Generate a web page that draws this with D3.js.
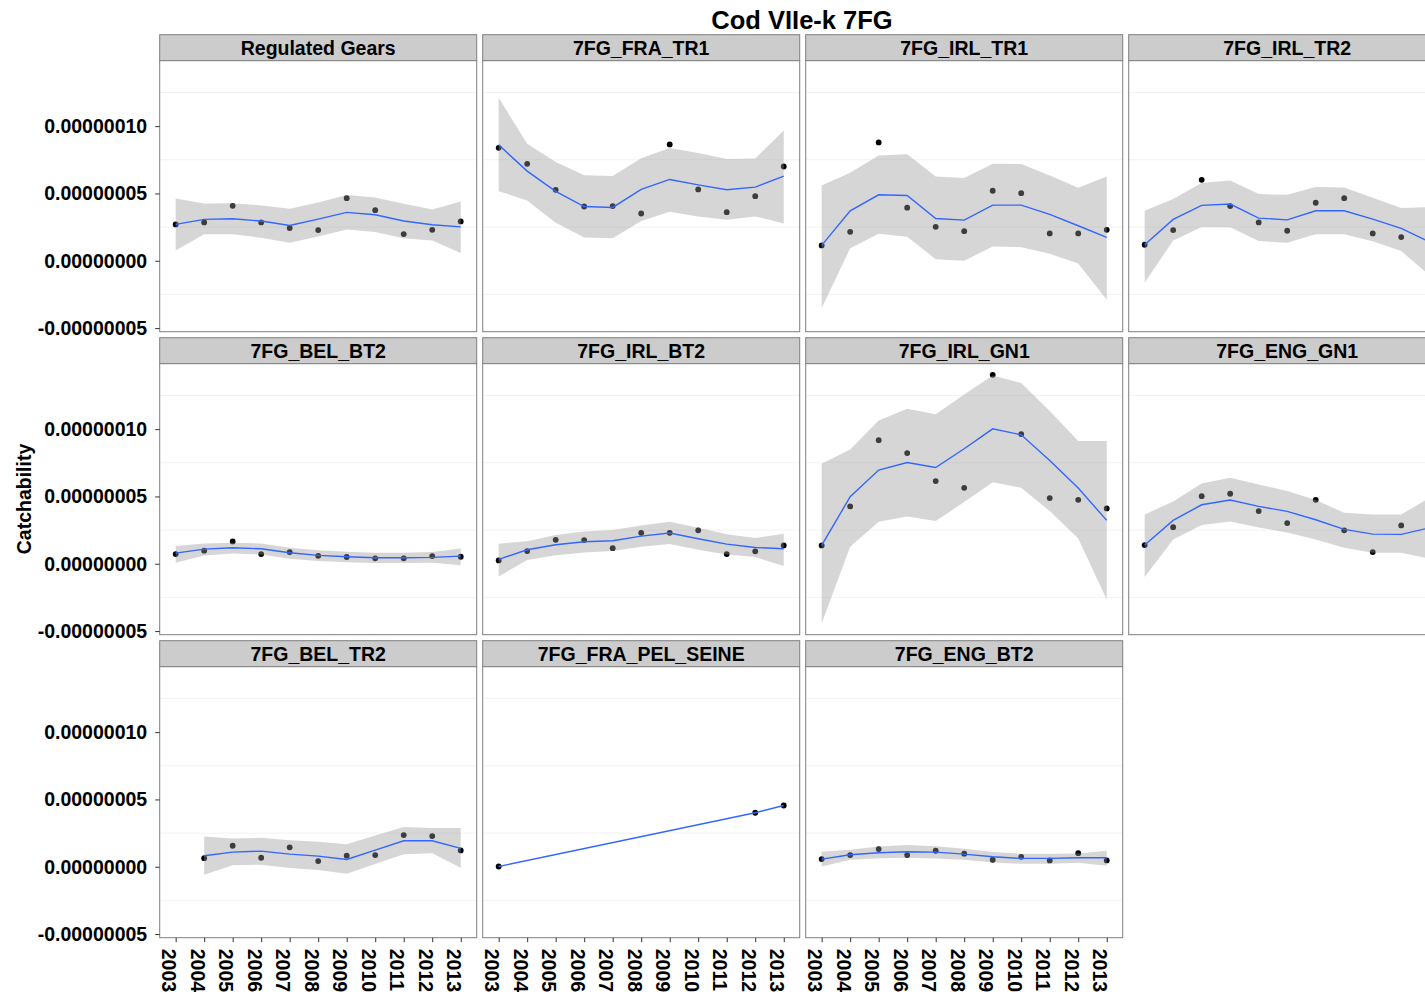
<!DOCTYPE html>
<html><head><meta charset="utf-8">
<script src="https://cdn.jsdelivr.net/npm/d3@7"></script>
<style>
body{margin:0;background:#fff;}
svg{display:block;font-family:"Liberation Sans",Arial,sans-serif;}
</style>
</head><body>
<svg id="chart" width="1425" height="999"></svg>
<script>
// ---- data (catchability values in units of 1e-8) ----
const UNIT = 1e-8;
const years = [2003,2004,2005,2006,2007,2008,2009,2010,2011,2012,2013];
const panelNames = ["Regulated Gears","7FG_FRA_TR1","7FG_IRL_TR1","7FG_IRL_TR2",
  "7FG_BEL_BT2","7FG_IRL_BT2","7FG_IRL_GN1","7FG_ENG_GN1",
  "7FG_BEL_TR2","7FG_FRA_PEL_SEINE","7FG_ENG_BT2"];
const yTickValues = [-5e-8, 0, 5e-8, 1e-7];
const yMinorValues = [-2.5e-8, 2.5e-8, 7.5e-8, 1.25e-7];

const regPts = [2.70,2.85,4.08,2.85,2.43,2.28,4.65,3.76,1.98,2.30,2.92];
const regFit = [2.70,3.07,3.12,2.95,2.62,3.09,3.59,3.42,2.95,2.67,2.52];
const regLo  = [0.77,1.96,1.96,1.71,1.34,1.81,2.33,2.13,1.68,1.51,0.57];
const regHi  = [4.63,4.26,4.28,4.11,3.86,4.33,4.88,4.70,4.23,3.81,4.41];

const fraTr1Pts = [8.39,7.20,5.27,4.03,4.06,3.51,8.64,5.30,3.61,4.80,7.00];
const fraTr1Fit = [8.61,6.66,5.15,4.03,3.96,5.30,6.04,5.64,5.27,5.47,6.29];
const fraTr1Lo  = [5.17,4.48,2.82,1.73,1.68,2.95,3.64,3.29,3.04,3.29,2.77];
const fraTr1Hi  = [12.10,8.69,7.33,6.36,6.29,7.62,8.37,8.00,7.55,7.60,9.68];

const irlTr1Pts = [1.14,2.15,8.79,3.94,2.52,2.20,5.20,5.02,2.03,2.03,2.30];
const irlTr1Fit = [1.14,3.71,4.90,4.85,3.14,3.02,4.13,4.13,3.44,2.60,1.73];
const irlTr1Lo  = [-3.51,0.92,2.00,1.78,0.12,0.00,1.06,1.01,0.52,-0.20,-2.90];
const irlTr1Hi  = [5.59,6.53,7.82,7.92,6.26,6.14,7.20,7.18,6.34,5.42,6.26];

const irlTr2Pts = [1.19,2.28,6.01,4.06,2.85,2.23,4.31,4.65,2.03,1.76,1.00];
const irlTr2Fit = [1.19,3.07,4.11,4.21,3.17,3.04,3.71,3.71,3.09,2.40,1.39];
const irlTr2Lo  = [-1.63,1.51,2.50,2.48,1.46,1.34,1.96,1.96,1.44,0.72,-1.09];
const irlTr2Hi  = [3.71,4.58,5.77,5.97,4.95,4.90,5.47,5.45,4.68,3.91,3.99];

const belBt2Pts = [0.72,0.97,1.66,0.72,0.87,0.59,0.50,0.40,0.40,0.57,0.52];
const belBt2Fit = [0.79,1.09,1.19,1.11,0.82,0.62,0.52,0.45,0.45,0.47,0.57];
const belBt2Lo  = [0.07,0.62,0.77,0.69,0.37,0.20,0.12,0.05,0.05,0.07,-0.12];
const belBt2Hi  = [1.31,1.51,1.56,1.51,1.19,1.01,0.89,0.82,0.82,0.87,1.14];

const irlBt2Pts = [0.25,0.94,1.78,1.76,1.16,2.30,2.30,2.48,0.72,0.92,1.36];
const irlBt2Fit = [0.32,1.04,1.41,1.63,1.71,2.05,2.28,1.86,1.46,1.21,1.11];
const irlBt2Lo  = [-0.94,0.27,0.64,0.84,0.94,1.26,1.46,1.04,0.69,0.50,-0.17];
const irlBt2Hi  = [1.49,1.68,2.13,2.40,2.50,2.85,3.12,2.67,2.20,1.91,2.23];

const irlGn1Pts = [1.36,4.26,9.18,8.22,6.14,5.64,14.03,9.63,4.88,4.75,4.11];
const irlGn1Fit = [1.36,4.98,6.96,7.52,7.15,8.54,10.02,9.58,7.67,5.62,3.22];
const irlGn1Lo  = [-4.43,1.26,3.12,3.51,3.17,4.58,6.06,5.64,3.91,1.88,-2.65];
const irlGn1Hi  = [7.43,8.49,10.64,11.51,11.11,12.57,13.99,13.42,11.34,9.11,9.11];

const engGn1Pts = [1.39,2.72,5.02,5.20,3.91,3.02,4.75,2.48,0.87,2.85,2.40];
const engGn1Fit = [1.39,3.22,4.38,4.73,4.26,3.89,3.27,2.55,2.20,2.18,2.67];
const engGn1Lo  = [-0.99,1.81,2.87,3.14,2.70,2.33,1.81,1.19,0.82,0.82,0.37];
const engGn1Hi  = [3.66,4.63,5.97,6.39,5.89,5.40,4.73,3.79,3.66,3.66,4.90];

const belTr2Pts = [null,0.64,1.56,0.67,1.44,0.42,0.82,0.87,2.35,2.28,1.21];
const belTr2Fit = [null,0.82,1.09,1.16,0.94,0.79,0.54,1.24,1.93,1.93,1.36];
const belTr2Lo  = [null,-0.59,0.12,0.15,-0.10,-0.25,-0.52,0.20,0.92,1.01,-0.07];
const belTr2Hi  = [null,2.25,2.10,2.15,1.96,1.86,1.68,2.33,2.95,2.87,2.87];

const fraPelPts = [0.02,null,null,null,null,null,null,null,null,4.01,4.55];
const fraPelFit = [0.02,null,null,null,null,null,null,null,null,4.01,4.55];
const fraPelLo  = [null,null,null,null,null,null,null,null,null,null,null];
const fraPelHi  = [null,null,null,null,null,null,null,null,null,null,null];

const engBt2Pts = [0.57,0.87,1.31,0.87,1.19,0.97,0.52,0.74,0.47,1.01,0.47];
const engBt2Fit = [0.57,0.89,1.04,1.11,1.09,0.94,0.74,0.62,0.62,0.67,0.67];
const engBt2Lo  = [0.02,0.52,0.64,0.67,0.62,0.52,0.32,0.22,0.22,0.30,0.07];
const engBt2Hi  = [1.11,1.26,1.51,1.61,1.53,1.34,1.09,0.97,0.97,0.99,1.19];

const panelSeries = [
  [regPts, regFit, regLo, regHi],
  [fraTr1Pts, fraTr1Fit, fraTr1Lo, fraTr1Hi],
  [irlTr1Pts, irlTr1Fit, irlTr1Lo, irlTr1Hi],
  [irlTr2Pts, irlTr2Fit, irlTr2Lo, irlTr2Hi],
  [belBt2Pts, belBt2Fit, belBt2Lo, belBt2Hi],
  [irlBt2Pts, irlBt2Fit, irlBt2Lo, irlBt2Hi],
  [irlGn1Pts, irlGn1Fit, irlGn1Lo, irlGn1Hi],
  [engGn1Pts, engGn1Fit, engGn1Lo, engGn1Hi],
  [belTr2Pts, belTr2Fit, belTr2Lo, belTr2Hi],
  [fraPelPts, fraPelFit, fraPelLo, fraPelHi],
  [engBt2Pts, engBt2Fit, engBt2Lo, engBt2Hi]
];

// ---- layout ----
const svg = d3.select("#chart");
const colX = [159.7, 482.7, 805.7, 1128.7];
const rowTop = [34.7, 337.7, 640.7];
const stripH = 26, plotH = 271, panelW = 317;
const nCol = 4;

const x = d3.scaleLinear().domain([2002.44, 2013.56]).range([0, panelW]);
const y = d3.scaleLinear().domain([-5.27e-8, 14.86e-8]).range([plotH, 0]);

const loc = d3.formatLocale({decimal: ".", thousands: ",", grouping: [3], currency: ["", ""], minus: "-"});
const yFmt = loc.format(".8f");

svg.append("rect").attr("width",1425).attr("height",999).attr("fill","#fff");

// title
svg.append("text").attr("x", 802).attr("y", 29).attr("text-anchor","middle")
  .attr("font-size", 25.5).attr("font-weight","bold").attr("fill","#000")
  .text("Cod VIIe-k 7FG");

// y axis title
svg.append("text").attr("transform","translate(31,499) rotate(-90)")
  .attr("text-anchor","middle").attr("font-size",19.5).attr("font-weight","bold")
  .attr("fill","#000").text("Catchability");

const defs = svg.append("defs");
const nRows = 3;

panelNames.forEach((name, i) => {
  const r = Math.floor(i / nCol), c = i % nCol;
  const px = colX[c], st = rowTop[r], py = st + stripH;
  const [pts, fit, lo, hi] = panelSeries[i];
  const data = years.map((yr, k) => ({yr, p: pts[k], f: fit[k], lo: lo[k], hi: hi[k]}));

  // strip
  svg.append("rect").attr("x", px).attr("y", st).attr("width", panelW).attr("height", stripH)
    .attr("fill","#cccccc").attr("stroke","#7f7f7f").attr("stroke-width",1);
  svg.append("text").attr("x", px + panelW/2).attr("y", st + 20.3)
    .attr("text-anchor","middle").attr("font-size",19.5).attr("font-weight","bold")
    .attr("fill","#000").text(name);

  const g = svg.append("g").attr("transform", `translate(${px},${py})`);
  const cid = "clip" + i;
  defs.append("clipPath").attr("id", cid).append("rect")
    .attr("width", panelW).attr("height", plotH);

  g.append("rect").attr("width", panelW).attr("height", plotH).attr("fill","#fff");
  const body = g.append("g").attr("clip-path", `url(#${cid})`);

  // faint minor gridlines
  body.selectAll("line.minor").data(yMinorValues).enter().append("line")
    .attr("x1",0).attr("x2",panelW)
    .attr("y1", d => y(d)).attr("y2", d => y(d))
    .attr("stroke","#f2f2f2").attr("stroke-width",1);

  // points (drawn beneath ribbon, as in the original)
  body.selectAll("circle").data(data.filter(d => d.p != null)).enter().append("circle")
    .attr("cx", d => x(d.yr)).attr("cy", d => y(d.p * UNIT)).attr("r", 2.9)
    .attr("fill","#000");

  // ribbon
  const area = d3.area().defined(d => d.lo != null && d.hi != null)
    .x(d => x(d.yr)).y0(d => y(d.lo * UNIT)).y1(d => y(d.hi * UNIT));
  body.append("path").datum(data).attr("d", area)
    .attr("fill","#999999").attr("fill-opacity",0.4);

  // smooth line
  const line = d3.line().defined(d => d.f != null)
    .x(d => x(d.yr)).y(d => y(d.f * UNIT));
  body.append("path").datum(data.filter(d => d.f != null)).attr("d", line)
    .attr("fill","none").attr("stroke","#3366FF").attr("stroke-width",1.4);

  // border
  g.append("rect").attr("width", panelW).attr("height", plotH)
    .attr("fill","none").attr("stroke","#7f7f7f").attr("stroke-width",1);

  // y axis on first column
  if (c === 0) {
    const ax = g.append("g").call(d3.axisLeft(y).tickValues(yTickValues)
      .tickFormat(yFmt).tickSize(4.5).tickPadding(8));
    ax.select(".domain").remove();
    ax.selectAll(".tick line").attr("stroke","#333");
    ax.selectAll(".tick text").attr("font-size",19.5).attr("font-weight","bold")
      .attr("fill","#000").attr("font-family","Liberation Sans, Arial, sans-serif");
  }
  // x axis on bottom-most panel of each column
  const lastInCol = (i + nCol >= panelNames.length);
  if (lastInCol && r === nRows - 1) {
    const ax = g.append("g").attr("transform", `translate(0,${plotH})`)
      .call(d3.axisBottom(x).tickValues(years).tickFormat(d3.format("d")).tickSize(4.5));
    ax.select(".domain").remove();
    ax.selectAll(".tick line").attr("stroke","#333");
    ax.selectAll(".tick text")
      .attr("font-size",19.5).attr("font-weight","bold").attr("fill","#000")
      .attr("font-family","Liberation Sans, Arial, sans-serif")
      .attr("text-anchor","start").attr("dy", null).attr("y", null)
      .attr("transform","translate(-14,11) rotate(90)");
  }
});
</script>
</body></html>
